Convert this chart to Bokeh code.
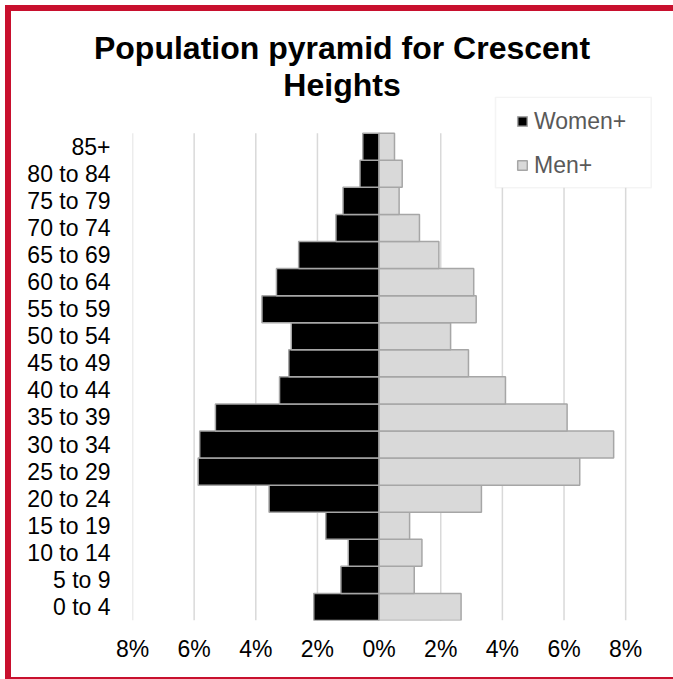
from bokeh.plotting import figure
from bokeh.layouts import column
from bokeh.models import (Range1d, FixedTicker, BoxAnnotation, Div,
                          Legend, LegendItem, ColumnDataSource)
from bokeh.embed import file_html
from bokeh.resources import INLINE

# ---- data (percent of population) ----
age_groups = ["0 to 4", "5 to 9", "10 to 14", "15 to 19", "20 to 24", "25 to 29",
              "30 to 34", "35 to 39", "40 to 44", "45 to 49", "50 to 54", "55 to 59",
              "60 to 64", "65 to 69", "70 to 74", "75 to 79", "80 to 84", "85+"]
women = [2.12, 1.24, 1.00, 1.73, 3.57, 5.87, 5.82, 5.31, 3.23, 2.93, 2.85, 3.80,
         3.33, 2.61, 1.40, 1.17, 0.62, 0.53]
men = [2.66, 1.14, 1.39, 0.99, 3.32, 6.51, 7.61, 6.10, 4.10, 2.90, 2.32, 3.15,
       3.07, 1.94, 1.31, 0.65, 0.75, 0.50]
tick_values = [-8, -6, -4, -2, 0, 2, 4, 6, 8]
tick_labels = ["8%", "6%", "4%", "2%", "0%", "2%", "4%", "6%", "8%"]
title_lines = ["Population pyramid for Crescent", "Heights"]
series_names = ["Women+", "Men+"]

FONT = "Liberation Sans"
RED = "#C8102E"

n = len(age_groups)
pos = list(range(n))
src = ColumnDataSource(dict(pos=pos,
                            women_left=[-v for v in women],
                            men_right=men))

# title block (HTML text above the chart)
title_div = Div(
    text=('<div style="box-sizing:border-box; width:673px; height:96px; overflow:visible; '
          'text-align:center; padding-top:30px; padding-left:11px; '
          'font-family:\'Liberation Sans\', Arial, sans-serif; font-weight:bold; '
          'font-size:32px; line-height:37px; color:black; white-space:nowrap;">'
          + title_lines[0] + '<br>' + title_lines[1] + '</div>'),
    width=673, height=96, margin=0)

p = figure(frame_width=524, frame_height=524,
           min_border_left=132, min_border_right=17,
           min_border_top=0, min_border_bottom=59,
           x_range=Range1d(-8, 9), y_range=Range1d(-0.5, n - 0.5 + 1.356),
           output_backend="svg", toolbar_location=None)
p.background_fill_color = None
p.border_fill_color = None
p.outline_line_color = None
p.xgrid.visible = False
p.ygrid.visible = False

# vertical gridlines at the tick positions, spanning the age rows only
p.segment(x0=tick_values, x1=tick_values, y0=[-0.5] * len(tick_values),
          y1=[n - 0.5] * len(tick_values), line_color="#d9d9d9", line_width=1.5,
          level="underlay")

rw = p.hbar(y="pos", left="women_left", right=0, height=1.0, source=src,
            fill_color="black", line_color="#a6a6a6", line_width=1.5)
rm = p.hbar(y="pos", left=0, right="men_right", height=1.0, source=src,
            fill_color="#d9d9d9", line_color="#a6a6a6", line_width=1.5)

# axes
p.xaxis.ticker = FixedTicker(ticks=tick_values)
p.xaxis.major_label_overrides = {v: l for v, l in zip(tick_values, tick_labels)}
p.yaxis.ticker = FixedTicker(ticks=pos)
p.yaxis.major_label_overrides = {i: a for i, a in zip(pos, age_groups)}
for ax in (p.xaxis[0], p.yaxis[0]):
    ax.axis_line_color = None
    ax.major_tick_line_color = None
    ax.minor_tick_line_color = None
    ax.major_tick_out = 0
    ax.major_tick_in = 0
    ax.major_label_text_font = FONT
    ax.major_label_text_font_size = "23px"
    ax.major_label_text_color = "black"
p.xaxis.major_label_standoff = 15
p.yaxis.major_label_standoff = 22

# legend frame
p.add_layout(BoxAnnotation(left=495, right=650.7, top=0.8, bottom=91.3,
                           left_units="canvas", right_units="canvas",
                           top_units="canvas", bottom_units="canvas",
                           fill_color="white", fill_alpha=1,
                           line_color="#d9d9d9", line_width=1.5))

legend = Legend(items=[LegendItem(label=series_names[0], renderers=[rw]),
                       LegendItem(label=series_names[1], renderers=[rm])],
                location=(384, 440), padding=0, spacing=14, margin=0,
                glyph_width=12, glyph_height=12, label_height=30, label_standoff=6,
                label_text_font=FONT, label_text_font_size="23px",
                label_text_color="#595959",
                border_line_color=None, background_fill_alpha=0)
p.add_layout(legend)

layout = column(title_div, p, spacing=0, margin=0,
                styles={"background-color": "white",
                        "box-shadow": ("inset 5px 5px 0 0 white, inset 11px 11px 0 0 %s, "
                                       "inset 0 -2px 0 0 %s") % (RED, RED)})

open("out.html", "w").write(file_html(layout, INLINE))
